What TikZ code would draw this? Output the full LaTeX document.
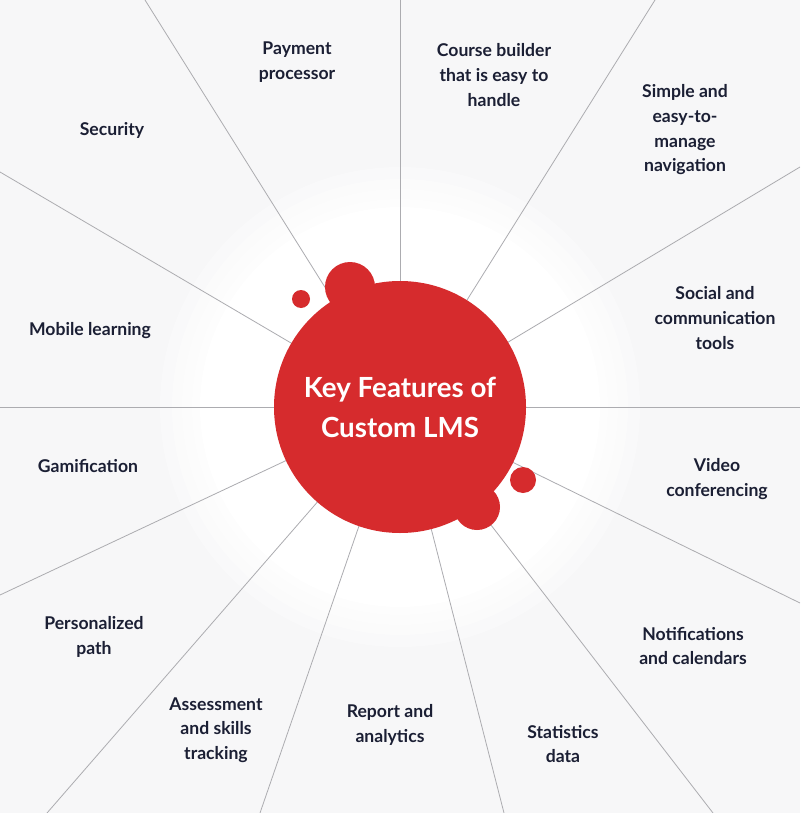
\documentclass[tikz,border=0pt]{standalone}
\usepackage{fontspec}
\setmainfont{Lato}
\definecolor{lmsred}{RGB}{214,43,45}
\definecolor{navy}{RGB}{27,31,52}
\definecolor{spokegray}{RGB}{172,172,176}
\definecolor{paper}{RGB}{247,247,248}

\begin{document}
\begin{tikzpicture}[
  x=0.75pt, y=-0.75pt,
  spoke/.style = {draw=spokegray, line width=0.6pt},
  feature/.style = {text=navy, font=\fontsize{13.2}{18.5}\selectfont\bfseries, align=center},
  blob/.style = {circle, fill=lmsred, inner sep=0pt, minimum size=#1}
]
\useasboundingbox (0,0) rectangle (800,813);
\fill[paper] (0,0) rectangle (800,813);
% soft white halo round the centre
\foreach \r in {240,228,218,208}
  \fill[white, opacity=0.35] (400,407) circle (\r);
\fill[white] (400,407) circle (200);

\coordinate (c) at (400,407);
% free ends of the spokes, clockwise from the top
\foreach \name/\ex/\ey in {e1/400/0, e2/655/0, e3/800/167, e4/800/407,
    e5/800/603, e6/713/813, e7/504/813, e8/260/813,
    e9/47/813, e10/0/595, e11/0/407, e12/0/172, e13/145/0}
  \coordinate (\name) at (\ex,\ey);
\foreach \name in {e1,e2,e3,e4,e5,e6,e7,e8,e9,e10,e11,e12,e13}
  \draw[spoke] (c) -- (\name);

\node[blob=37.5pt] (topblob) at (350,287) {};
\node[blob=13.5pt] (topdot) at (301,299) {};
\node[blob=34.5pt] (lowblob) at (477,507) {};
\node[blob=19.5pt] (lowdot) at (523,480) {};
\node[blob=189pt, text=white, align=center,
      font=\fontsize{20.8}{30}\selectfont\bfseries] (lms) at (c) {Key Features of\\Custom LMS};

\node[feature] (payment) at (297,62) {Payment\\processor};
\node[feature] (builder) at (494,75) {Course builder\\that is easy to\\handle};
\node[feature] (navigation) at (685,130) {Simple and\\easy-to-\\manage\\navigation};
\node[feature] (security) at (112,130) {Security};
\node[feature] (social) at (715,318) {Social and\\communication\\tools};
\node[feature] (mobile) at (90,331) {Mobile learning};
\node[feature] (gamification) at (88,466) {Gamification};
\node[feature] (video) at (717,479) {Video\\conferencing};
\node[feature] (path) at (94,637) {Personalized\\path};
\node[feature] (notify) at (693,646) {Notifications\\and calendars};
\node[feature] (assess) at (216,730) {Assessment\\and skills\\tracking};
\node[feature] (report) at (390,725) {Report and\\analytics};
\node[feature] (stats) at (563,744) {Statistics\\data};
\end{tikzpicture}
\end{document}
